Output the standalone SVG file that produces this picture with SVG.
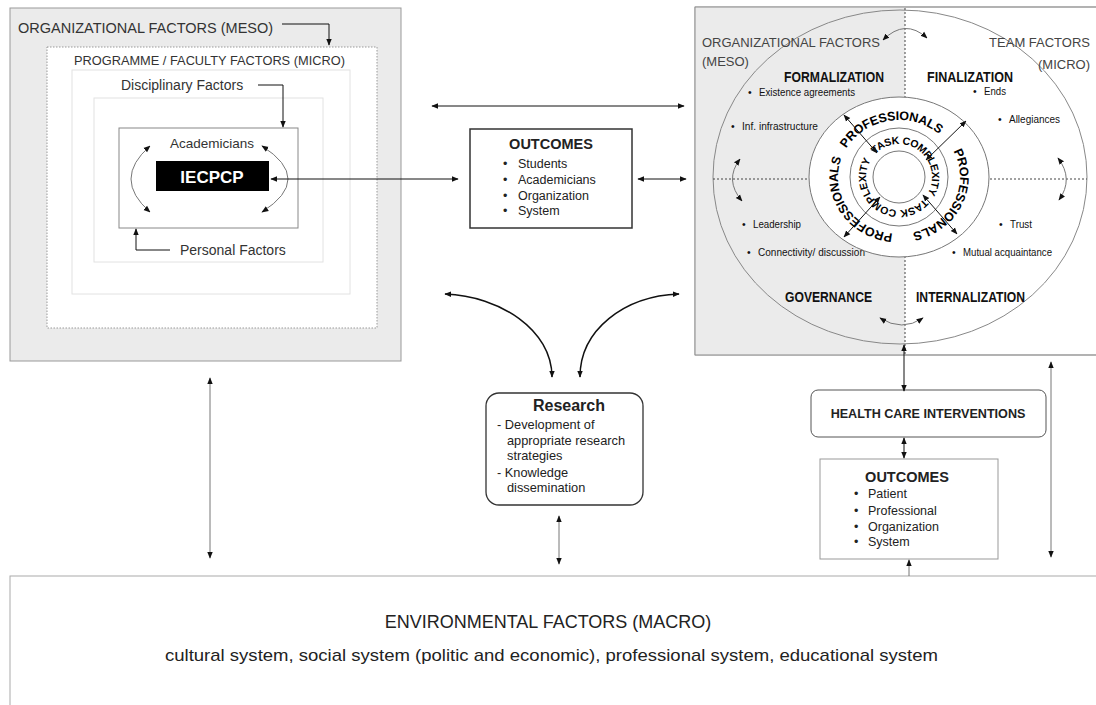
<svg xmlns="http://www.w3.org/2000/svg" width="1096" height="705" viewBox="0 0 1096 705">
<style>
text{font-family:"Liberation Sans",Arial,sans-serif;fill:#222}
.b{font-weight:bold}
.lbl{font-size:12.5px}
.bul{font-size:10.5px;fill:#111}
.quad{font-size:14px;font-weight:bold;fill:#111}
.ring{font-size:12.5px;font-weight:bold;fill:#000}
.ringi{font-size:10.5px;font-weight:bold;fill:#000}
.con{fill:none;stroke:#111;stroke-width:1}
.gcon{fill:none;stroke:#777;stroke-width:1}
.thick{fill:none;stroke:#111;stroke-width:1.5}
</style>
<defs>
<marker id="ah" viewBox="0 0 10 10" refX="9" refY="5" markerWidth="7" markerHeight="7" markerUnits="userSpaceOnUse" orient="auto-start-reverse"><path d="M0,1 L10,5 L0,9 z" fill="#111"/></marker>
<path id="pro" d="M838,177 A61,57 0 1 1 960,177 A61,57 0 1 1 838,177 A61,57 0 1 1 960,177"/>
<path id="task" d="M866,177 A33,33 0 1 1 932,177 A33,33 0 1 1 866,177 A33,33 0 1 1 932,177"/>
</defs>
<rect width="1096" height="705" fill="#fff"/>

<!-- Left organizational box -->
<g id="org-left">
<rect x="10" y="8" width="391" height="353" fill="#ebebeb" stroke="#999"/>
<text x="18" y="33" style="font-size:14.5px;fill:#333">ORGANIZATIONAL FACTORS (MESO)</text>
</g>
<g id="programme">
<rect x="47" y="47" width="330" height="281" fill="#fff" stroke="#999" stroke-dasharray="1.5 1.5"/>
<text x="74" y="65" style="font-size:12.8px;fill:#333">PROGRAMME / FACULTY FACTORS (MICRO)</text>
<rect x="72" y="70" width="278" height="224" fill="#fff" stroke="#e2e2e2"/>
</g>
<g id="disciplinary">
<text x="121" y="90" style="font-size:14px;fill:#333">Disciplinary Factors</text>
<rect x="94" y="98" width="229" height="164" fill="#fff" stroke="#e2e2e2"/>
</g>
<g id="academicians">
<rect x="119" y="128" width="179" height="100" fill="#fff" stroke="#888"/>
<text x="212" y="148" text-anchor="middle" style="font-size:13.5px;fill:#333">Academicians</text>
</g>
<g id="iecpcp">
<rect x="156" y="161" width="113" height="30" fill="#000"/>
<text x="212" y="183" text-anchor="middle" class="b" style="font-size:17px;fill:#fff">IECPCP</text>
</g>
<g id="personal">
<text x="180" y="255" style="font-size:14px;fill:#333">Personal Factors</text>
</g>

<!-- Middle outcomes -->
<g id="outcomes-edu">
<rect x="470" y="129" width="162" height="99" fill="#fff" stroke="#333" stroke-width="1.5"/>
<text x="551" y="149" text-anchor="middle" class="b" style="font-size:14.5px">OUTCOMES</text>
<text x="503" y="168" class="lbl">•</text><text x="518" y="168" class="lbl">Students</text>
<text x="503" y="184" class="lbl">•</text><text x="518" y="184" class="lbl">Academicians</text>
<text x="503" y="200" class="lbl">•</text><text x="518" y="200" class="lbl">Organization</text>
<text x="503" y="215" class="lbl">•</text><text x="518" y="215" class="lbl">System</text>
</g>

<!-- Right team box -->
<g id="team-model">
<rect x="695" y="7" width="420" height="348" fill="#fff" stroke="#999"/>
<rect x="695.5" y="7.5" width="209.5" height="347" fill="#ebebeb"/>
<path d="M695,7 H1096 M695,7 V355 H1096" fill="none" stroke="#999"/>
<ellipse cx="900" cy="177" rx="187" ry="167" fill="none" stroke="#888"/>
<line x1="905" y1="8" x2="905" y2="354" stroke="#444" stroke-dasharray="2 2"/>
<line x1="713" y1="179" x2="810" y2="179" stroke="#444" stroke-dasharray="2 2"/>
<line x1="990" y1="179" x2="1087" y2="179" stroke="#444" stroke-dasharray="2 2"/>
<text x="702" y="47" textLength="178" lengthAdjust="spacingAndGlyphs" style="font-size:13px;fill:#444">ORGANIZATIONAL FACTORS</text>
<text x="702" y="66" style="font-size:13px;fill:#444">(MESO)</text>
<text x="1090" y="47" text-anchor="end" style="font-size:13px;fill:#444">TEAM FACTORS</text>
<text x="1090" y="69" text-anchor="end" style="font-size:13px;fill:#444">(MICRO)</text>
<text x="784" y="82" class="quad" textLength="100" lengthAdjust="spacingAndGlyphs">FORMALIZATION</text>
<text x="927" y="82" class="quad" textLength="86" lengthAdjust="spacingAndGlyphs">FINALIZATION</text>
<text x="785" y="302" class="quad" textLength="87" lengthAdjust="spacingAndGlyphs">GOVERNANCE</text>
<text x="916" y="302" class="quad" textLength="109" lengthAdjust="spacingAndGlyphs">INTERNALIZATION</text>
<text x="748" y="96" class="bul">•</text><text x="759" y="96" class="bul" textLength="96" lengthAdjust="spacingAndGlyphs">Existence agreements</text>
<text x="731" y="130" class="bul">•</text><text x="742" y="130" class="bul" textLength="76" lengthAdjust="spacingAndGlyphs">Inf. infrastructure</text>
<text x="973" y="95" class="bul">•</text><text x="984" y="95" class="bul" textLength="22" lengthAdjust="spacingAndGlyphs">Ends</text>
<text x="998" y="123" class="bul">•</text><text x="1009" y="123" class="bul" textLength="51" lengthAdjust="spacingAndGlyphs">Allegiances</text>
<text x="742" y="228" class="bul">•</text><text x="753" y="228" class="bul" textLength="48" lengthAdjust="spacingAndGlyphs">Leadership</text>
<text x="747" y="256" class="bul">•</text><text x="758" y="256" class="bul" textLength="107" lengthAdjust="spacingAndGlyphs">Connectivity/ discussion</text>
<text x="999" y="228" class="bul">•</text><text x="1010" y="228" class="bul" textLength="22" lengthAdjust="spacingAndGlyphs">Trust</text>
<text x="952" y="256" class="bul">•</text><text x="963" y="256" class="bul" textLength="89" lengthAdjust="spacingAndGlyphs">Mutual acquaintance</text>
</g>

<g id="core-rings">
<ellipse cx="899" cy="177" rx="90" ry="80" fill="#fff" stroke="#777"/>
<circle cx="899" cy="177" r="49" fill="#fff" stroke="#777"/>
<circle cx="899" cy="177" r="26" fill="#fff" stroke="#777"/>
<text class="ring"><textPath href="#pro" startOffset="30" textLength="106" lengthAdjust="spacing">PROFESSIONALS</textPath></text>
<text class="ring"><textPath href="#pro" startOffset="158" textLength="106" lengthAdjust="spacing">PROFESSIONALS</textPath></text>
<text class="ring"><textPath href="#pro" startOffset="284" textLength="106" lengthAdjust="spacing">PROFESSIONALS</textPath></text>
<text class="ringi"><textPath href="#task" startOffset="25" textLength="96" lengthAdjust="spacing">TASK COMPLEXITY</textPath></text>
<text class="ringi"><textPath href="#task" startOffset="127" textLength="98" lengthAdjust="spacing">TASK COMPLEXITY</textPath></text>
</g>

<!-- Research -->
<g id="research">
<rect x="486" y="393" width="157" height="112" rx="13" fill="#fff" stroke="#333" stroke-width="1.3"/>
<text x="569" y="411" text-anchor="middle" class="b" style="font-size:16px">Research</text>
<text x="497" y="429" style="font-size:12.8px">- Development of</text>
<text x="507" y="445" style="font-size:12.8px">appropriate research</text>
<text x="507" y="460" style="font-size:12.8px">strategies</text>
<text x="497" y="477" style="font-size:12.8px">- Knowledge</text>
<text x="507" y="492" style="font-size:12.8px">dissemination</text>
</g>

<!-- Health care interventions -->
<g id="hci">
<rect x="811" y="390" width="235" height="47" rx="7" fill="#fff" stroke="#555"/>
<text x="928" y="418" text-anchor="middle" class="b" style="font-size:12.6px">HEALTH CARE INTERVENTIONS</text>
</g>
<g id="outcomes-care">
<rect x="820" y="459" width="178" height="100" fill="#fff" stroke="#999"/>
<text x="907" y="482" text-anchor="middle" class="b" style="font-size:14.5px">OUTCOMES</text>
<text x="854" y="498" class="lbl">•</text><text x="868" y="498" class="lbl">Patient</text>
<text x="854" y="515" class="lbl">•</text><text x="868" y="515" class="lbl">Professional</text>
<text x="854" y="531" class="lbl">•</text><text x="868" y="531" class="lbl">Organization</text>
<text x="854" y="546" class="lbl">•</text><text x="868" y="546" class="lbl">System</text>
</g>

<!-- Environmental -->
<g id="environment">
<rect x="10" y="576" width="1100" height="140" fill="#fff" stroke="#aaa"/>
<text x="548" y="628" text-anchor="middle" style="font-size:18px">ENVIRONMENTAL FACTORS (MACRO)</text>
<text x="165" y="661" textLength="773" lengthAdjust="spacingAndGlyphs" style="font-size:17px">cultural system, social system (politic and economic),  professional system,  educational system</text>
</g>

<g id="connectors">
<path class="con" d="M282,24 H329 V45" marker-end="url(#ah)"/>
<path class="con" d="M258,85 H283 V127" marker-end="url(#ah)"/>
<path class="con" d="M170,250 H136 V229" marker-end="url(#ah)"/>
<path class="gcon" d="M150,146 Q112,179 150,212" marker-start="url(#ah)" marker-end="url(#ah)"/>
<path class="gcon" d="M262,146 Q314,179 262,212" marker-start="url(#ah)" marker-end="url(#ah)"/>
<path class="con" d="M271,179 H458" marker-start="url(#ah)" marker-end="url(#ah)"/>
<path class="con" d="M638,179 H686" marker-start="url(#ah)" marker-end="url(#ah)"/>
<path class="con" d="M432,106 H684" marker-start="url(#ah)" marker-end="url(#ah)"/>
<path class="thick" d="M445,294 C500,296 552,330 552,377" marker-start="url(#ah)" marker-end="url(#ah)"/>
<path class="thick" d="M679,294 C624,296 580,330 580,377" marker-start="url(#ah)" marker-end="url(#ah)"/>
<path class="gcon" d="M559,516 V564" marker-start="url(#ah)" marker-end="url(#ah)"/>
<path class="gcon" d="M210,378 V558" marker-start="url(#ah)" marker-end="url(#ah)"/>
<path class="con" d="M904,345 V391" marker-start="url(#ah)" marker-end="url(#ah)"/>
<path class="con" d="M904,438 V458" marker-start="url(#ah)" marker-end="url(#ah)"/>
<path class="gcon" d="M909,576 V560" marker-end="url(#ah)"/>
<path class="gcon" d="M1051,362 V557" marker-start="url(#ah)" marker-end="url(#ah)"/>
<path class="gcon" d="M883,40 Q905,18 927,38" marker-start="url(#ah)" marker-end="url(#ah)"/>
<path class="gcon" d="M740,159 Q724,180 742,201" marker-start="url(#ah)" marker-end="url(#ah)"/>
<path class="gcon" d="M1058,158 Q1074,179 1059,200" marker-start="url(#ah)" marker-end="url(#ah)"/>
<path class="gcon" d="M880,318 Q902,332 923,318" marker-start="url(#ah)" marker-end="url(#ah)"/>
<path class="con" d="M844,115 L877,153" marker-start="url(#ah)" marker-end="url(#ah)"/>
<path class="con" d="M966,121 L926,160" marker-start="url(#ah)" marker-end="url(#ah)"/>
<path class="con" d="M844,237 L880,197" marker-start="url(#ah)" marker-end="url(#ah)"/>
<path class="con" d="M957,234 L923,195" marker-start="url(#ah)" marker-end="url(#ah)"/>
</g>
</svg>
